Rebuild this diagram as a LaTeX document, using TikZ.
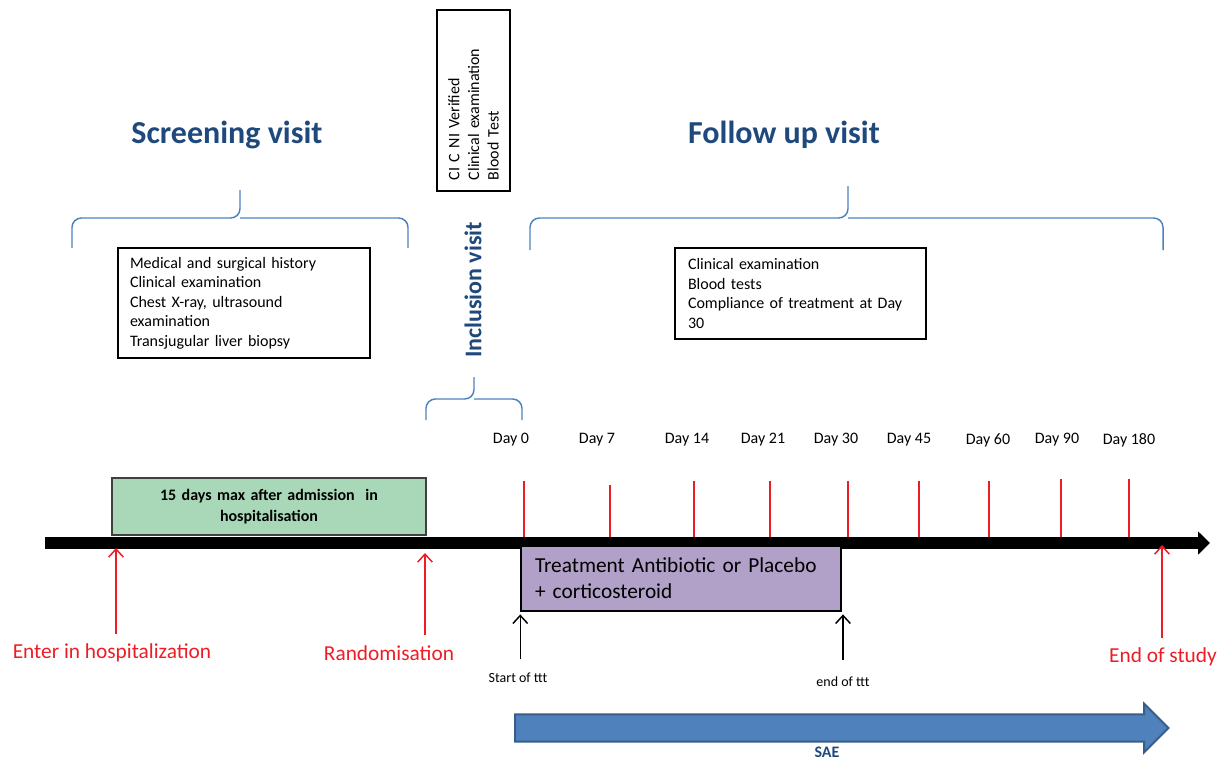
\documentclass[tikz,border=0pt]{standalone}
\usepackage{fontspec}
\setmainfont{Carlito}
\usetikzlibrary{arrows.meta,shapes.arrows}
\definecolor{navy}{HTML}{1F497D}
\definecolor{brcblue}{HTML}{4F81BD}
\definecolor{evred}{HTML}{EE1C25}
\definecolor{grn}{HTML}{A9D8B8}
\definecolor{purp}{HTML}{B1A0C7}
\definecolor{saeblue}{HTML}{4F81BD}
\definecolor{saeedge}{HTML}{385D8A}
\begin{document}
\begin{tikzpicture}[x=0.75pt, y=-0.75pt,
  box/.style={draw, line width=0.8pt, align=left, font=\fontsize{12}{14.65}\selectfont},
  ttl/.style={text=navy, font=\fontsize{24}{28}\selectfont\bfseries},
  brc/.style={draw=brcblue, line width=1.1pt, rounded corners=7pt},
  daylbl/.style={font=\fontsize{12}{14}\selectfont},
  redlbl/.style={text=evred, font=\fontsize{16}{19}\selectfont},
  tick/.style={draw=evred, line width=1.5pt},
  redarr/.style={draw=evred, line width=1.1pt, -{Straight Barb[length=6pt,width=11pt]}},
  blkarr/.style={draw=black, line width=1.1pt, -{Straight Barb[length=6pt,width=11pt]}},
  small/.style={font=\fontsize{10.5}{12}\selectfont}
]
\useasboundingbox (0,0) rectangle (1230,761);

% titles
\node[ttl] (scrTitle) at (227,135) {Screening visit};
\node[ttl] (fupTitle) at (784,135) {Follow up visit};
\node[ttl, font=\fontsize{18}{21}\selectfont\bfseries, rotate=90] (incTitle) at (473,290) {Inclusion visit};

% braces
\draw[brc] (72,248) |- (240,218) -- (240,190);
\draw[brc] (408,248) |- (240,218);
\draw[brc] (530,250) |- (848,218) -- (848,186);
\draw[brc] (1163,250) |- (848,218);
\draw[brc] (426,420) |- (474,399) -- (474,377);
\draw[brc] (522,420) |- (474,399);

% visit boxes
\node[box, rotate=90, minimum width=135.75pt, minimum height=54.75pt, text width=119.25pt, inner xsep=8.25pt] (cic) at (473.5,100.5) {CI C NI Verified\\Clinical examination\\Blood Test};
\node[box, minimum width=189pt, minimum height=82.5pt, text width=171pt, inner xsep=9pt] (scrBox) at (244,303) {Medical and surgical history\\Clinical examination\\Chest X-ray, ultrasound\\examination\\Transjugular liver biopsy};
\node[box, minimum width=188.25pt, minimum height=68.25pt, text width=168.75pt, inner xsep=9.75pt] (fupBox) at (800.5,293.5) {Clinical examination\\Blood tests\\Compliance of treatment at Day\\30};

% day labels
\node[daylbl] (d0) at (511,440) {Day 0};
\node[daylbl] (d7) at (597,440) {Day 7};
\node[daylbl] (d14) at (687,440) {Day 14};
\node[daylbl] (d21) at (763,440) {Day 21};
\node[daylbl] (d30) at (836,440) {Day 30};
\node[daylbl] (d45) at (909,440) {Day 45};
\node[daylbl] (d60) at (988,440) {Day 60};
\node[daylbl] (d90) at (1057,440) {Day 90};
\node[daylbl] (d180) at (1129,440) {Day 180};

% ticks
\draw[tick] (524,481) -- (524,540);
\draw[tick] (610,485) -- (610,542);
\draw[tick] (694,481) -- (694,540);
\draw[tick] (770,481) -- (770,540);
\draw[tick] (848,481) -- (848,540);
\draw[tick] (919,481) -- (919,540);
\draw[tick] (989,481) -- (989,540);
\draw[tick] (1061,479) -- (1061,541);
\draw[tick] (1129,479) -- (1129,540);

% time axis
\coordinate (axL) at (45,543);
\coordinate (axR) at (1210,543);
\draw[line width=9pt, -{Triangle[length=9pt,width=17pt]}] (axL) -- (axR);

% period boxes
\node[draw=black!75, line width=1.1pt, fill=grn, minimum width=235.5pt, minimum height=42.75pt, text width=220pt, align=center, font=\fontsize{12}{15.5}\selectfont\bfseries] (hosp) at (269,506.5) {15 days max after admission~~in\\hospitalisation};
\node[draw=black, line width=1.1pt, fill=purp, minimum width=240pt, minimum height=48.75pt, text width=219pt, inner xsep=10.5pt, align=left, font=\fontsize{16}{19.5}\selectfont] (trt) at (681,578.5) {Treatment Antibiotic or Placebo\\+ corticosteroid};

% events
\node[redlbl] (enter) at (112,653) {Enter in hospitalization};
\node[redlbl] (rando) at (389,653) {Randomisation};
\node[redlbl] (endst) at (1163,657) {End of study};
\coordinate (tEnter) at (116,548);
\coordinate (tRand) at (425,553);
\coordinate (tEnd) at (1162,545);
\draw[redarr, shorten <=4pt] (enter.north -| tEnter) -- (tEnter);
\draw[redarr, shorten <=4pt] (rando.north -| tRand) -- (tRand);
\draw[redarr, shorten <=4pt] (endst.north -| tEnd) -- (tEnd);

\node[small] (startl) at (518,678) {Start of ttt};
\node[small] (endl) at (843,682) {end of ttt};
\draw[blkarr, shorten <=7pt, shorten >=2pt] (startl.north -| trt.south west) -- (trt.south west);
\draw[blkarr, shorten <=9pt, shorten >=2pt] (endl.north) -- (endl.north |- trt.south);

% SAE
\node[single arrow, draw=saeedge, line width=1.5pt, fill=saeblue, minimum height=490pt, minimum width=35pt, single arrow head extend=8pt, inner xsep=0pt, inner ysep=9.5pt] (sae) at (835,728) {};
\node[text=navy, font=\fontsize{12}{14}\selectfont\bfseries] (saelbl) at (827,752) {SAE};
\end{tikzpicture}
\end{document}
